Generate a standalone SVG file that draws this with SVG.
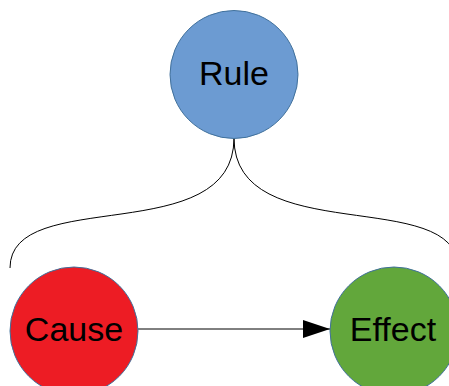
<svg xmlns="http://www.w3.org/2000/svg" width="449" height="386" viewBox="0 0 449 386">
<defs>
<style>
.node{stroke:#41719C;stroke-width:1}
.lbl{font-family:"Liberation Sans",Arial,sans-serif;font-size:34px;fill:#000;text-anchor:middle}
.conn{fill:none;stroke:#000;stroke-width:1}
</style>
<marker id="arr" markerWidth="27" markerHeight="18" refX="27" refY="9" orient="auto" markerUnits="userSpaceOnUse">
<path d="M0,0 L27,9 L0,18 Z" fill="#000"/>
</marker>
</defs>
<rect width="449" height="386" fill="#fff"/>
<g id="connectors">
<path class="conn" d="M234,138 C234,250 10,185 10,268"/>
<path class="conn" d="M234,138 C234,250 458,185 458,268"/>
<path class="conn" d="M138,329 L330,329" marker-end="url(#arr)"/>
</g>
<g id="rule">
<circle class="node" cx="234" cy="74.5" r="64" fill="#6C9BD2"/>
<text class="lbl" x="234" y="85">Rule</text>
</g>
<g id="cause">
<circle class="node" cx="74" cy="331" r="64" fill="#ED1C24"/>
<text class="lbl" x="74" y="341">Cause</text>
</g>
<g id="effect">
<circle class="node" cx="394" cy="331" r="64" fill="#62A73B"/>
<text class="lbl" x="393" y="341">Effect</text>
</g>
</svg>
